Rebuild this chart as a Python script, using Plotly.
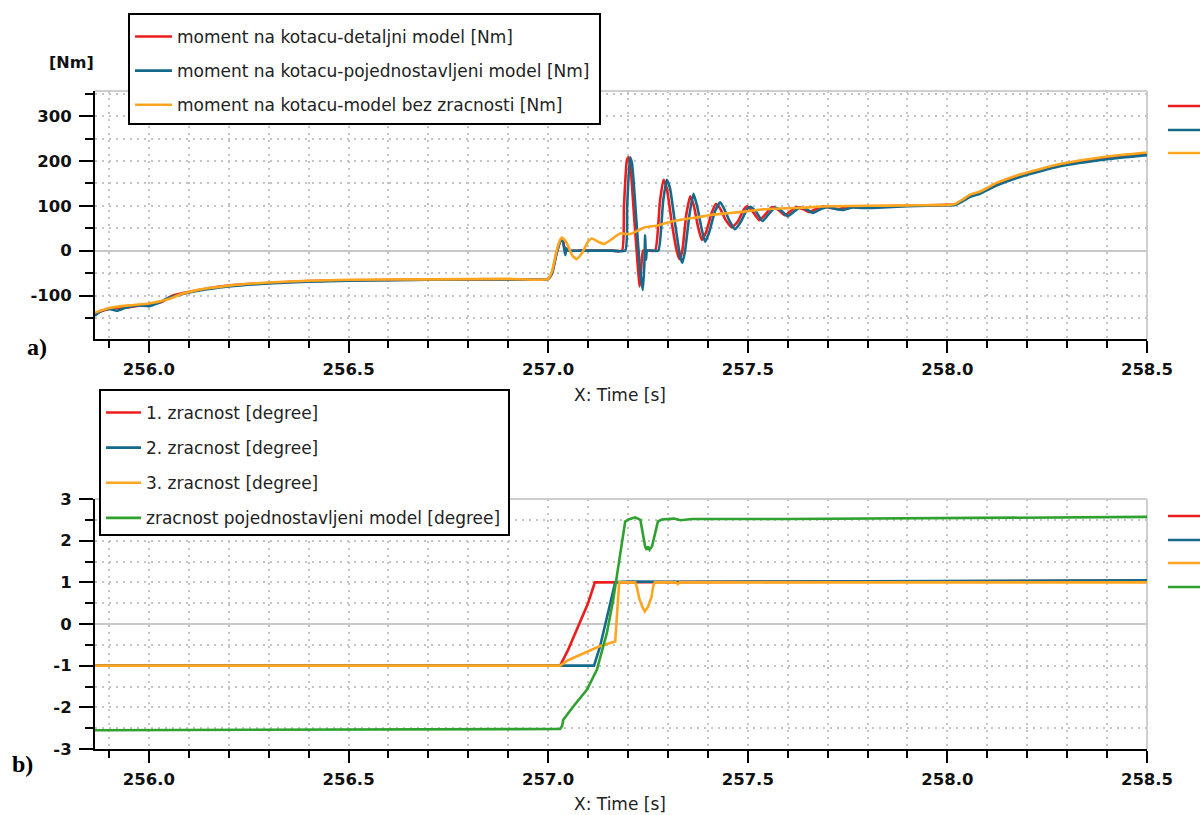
import plotly.graph_objects as go

# ---------------- data: panel a) torque [Nm] ----------------
t_red = [255.865, 255.9, 255.95, 256.0, 256.03, 256.06, 256.1, 256.15, 256.2, 256.3, 256.4, 256.5, 256.7, 256.9, 257.0,
         257.01, 257.02, 257.03, 257.036, 257.04, 257.045, 257.05, 257.08, 257.12, 257.16, 257.185, 257.19, 257.197, 257.201, 257.206, 257.215,
         257.225, 257.229, 257.233, 257.238, 257.253, 257.268, 257.28, 257.289, 257.297, 257.31, 257.322, 257.329, 257.336,
         257.346, 257.356, 257.365, 257.375, 257.385, 257.395, 257.41, 257.42, 257.43, 257.445, 257.46, 257.475, 257.49,
         257.498, 257.51, 257.529, 257.545, 257.56, 257.575, 257.593, 257.61, 257.622, 257.64, 257.655, 257.675, 257.69,
         257.71, 257.73, 257.75, 257.8, 257.85, 257.9, 257.95, 258.0, 258.019, 258.04, 258.057, 258.082, 258.123,
         258.182, 258.282, 258.4, 258.5]
v_red = [-140, -130, -126, -119, -115, -100, -92, -84, -78, -72, -68, -66, -65, -64, -63,
         -50, -10, 20, 27, 10, 2, 0, 0, 0, 0, 0, 100, 200, 208, 190, 80,
         -40, -80, -40, 0, 0, 0, 110, 158, 140, 60, 0, -19, 0,
         80, 121, 100, 55, 24, 40, 85, 104, 95, 68, 52, 65, 92,
         99, 90, 68, 82, 97, 92, 79, 90, 97, 92, 86, 95, 99,
         95, 93, 98, 97, 99, 100, 101, 102, 103, 114, 123, 130, 149,
         168, 191, 207, 216]

t_blue = [255.865, 255.88, 255.9, 255.92, 255.94, 255.97, 256.0, 256.02, 256.05, 256.08, 256.12, 256.2, 256.3, 256.4,
          256.5, 256.7, 256.9, 257.0, 257.01, 257.02, 257.03, 257.036, 257.04, 257.043, 257.046, 257.05, 257.08, 257.12, 257.16, 257.193,
          257.198, 257.205, 257.21, 257.22, 257.23, 257.237, 257.241, 257.243, 257.245, 257.248, 257.262, 257.276, 257.288,
          257.297, 257.305, 257.318, 257.33, 257.336, 257.343, 257.354, 257.364, 257.373, 257.383, 257.393, 257.403,
          257.418, 257.431, 257.44, 257.455, 257.468, 257.483, 257.498, 257.506, 257.52, 257.537, 257.553, 257.568,
          257.583, 257.6, 257.617, 257.63, 257.65, 257.663, 257.683, 257.7, 257.72, 257.74, 257.76, 257.8, 257.85,
          257.9, 257.95, 258.0, 258.019, 258.04, 258.057, 258.082, 258.123, 258.182, 258.282, 258.4, 258.5]
v_blue = [-145, -135, -130, -134, -128, -122, -124, -118, -105, -98, -90, -80, -73, -69,
          -67, -65, -64, -63, -50, -10, 20, 25, 5, -10, 5, 0, 0, 0, 0, 0,
          100, 208, 195, 80, -40, -88, -30, 35, -20, 0, 0, 0, 110,
          158, 140, 60, -10, -27, 0, 80, 127, 100, 55, 20, 40,
          88, 108, 95, 65, 48, 65, 92, 98, 88, 66, 82, 96,
          90, 77, 88, 96, 91, 84, 93, 97, 93, 91, 96, 95, 97,
          99, 100, 101, 102, 111, 120, 127, 145, 164, 188, 204, 213]

t_orange = [255.865, 255.9, 255.95, 256.0, 256.05, 256.08, 256.12, 256.2, 256.3, 256.4, 256.5, 256.7, 256.9, 257.0,
            257.01, 257.02, 257.028, 257.034, 257.045, 257.06, 257.071, 257.085, 257.1, 257.109, 257.125, 257.14,
            257.16, 257.18, 257.205, 257.225, 257.243, 257.275, 257.305, 257.34, 257.372, 257.41, 257.456, 257.5,
            257.538, 257.58, 257.622, 257.66, 257.706, 257.8, 257.9, 258.0, 258.019, 258.04, 258.057, 258.082,
            258.123, 258.182, 258.282, 258.4, 258.5]
v_orange = [-138, -128, -122, -118, -108, -97, -88, -78, -71, -67, -65, -64, -63, -63,
            -45, -5, 20, 29, 20, -10, -19, -5, 20, 27, 20, 15,
            26, 38, 37, 45, 52, 56, 64, 70, 74, 80, 84, 88,
            92, 94, 95, 97, 99, 100, 101, 102, 104, 115, 125, 132,
            151, 170, 193, 210, 219]

# ---------------- data: panel b) backlash [degree] ----------------
t_z1 = [255.865, 257.03, 257.05, 257.076, 257.1, 257.117, 257.5, 258.0, 258.5]
v_z1 = [-1.0, -1.0, -0.62, -0.06, 0.5, 1.0, 1.01, 1.02, 1.04]

t_z2 = [255.865, 257.115, 257.13, 257.147, 257.16, 257.168, 257.2, 257.3, 257.6, 258.0, 258.5]
v_z2 = [-1.0, -1.0, -0.54, 0.18, 0.74, 1.0, 1.02, 1.01, 1.02, 1.03, 1.05]

t_z3 = [255.865, 257.03, 257.05, 257.097, 257.13, 257.168, 257.172, 257.178, 257.218, 257.222, 257.228, 257.235,
        257.242, 257.25, 257.259, 257.263, 257.267, 257.32, 257.325, 257.33, 258.0, 258.5]
v_z3 = [-1.0, -1.0, -0.87, -0.66, -0.53, -0.42, 0.2, 1.0, 1.0, 0.9, 0.62, 0.43,
        0.3, 0.41, 0.65, 0.9, 1.0, 1.0, 0.96, 1.0, 1.0, 1.0]

t_zp = [255.865, 256.5, 257.03, 257.035, 257.038, 257.063, 257.097, 257.122, 257.147, 257.163, 257.18, 257.193,
        257.201, 257.218, 257.231, 257.24, 257.243, 257.247, 257.25, 257.254, 257.26, 257.267, 257.275, 257.285,
        257.315, 257.332, 257.36, 257.6, 258.0, 258.5]
v_zp = [-2.55, -2.53, -2.52, -2.45, -2.3, -1.98, -1.58, -1.10, -0.22, 0.58, 1.62, 2.46,
        2.51, 2.56, 2.5, 2.0, 1.86, 1.78, 1.86, 1.78, 1.86, 2.14, 2.46, 2.51,
        2.53, 2.49, 2.52, 2.52, 2.54, 2.57]

names_a = ["moment na kotacu-detaljni model [Nm]",
           "moment na kotacu-pojednostavljeni model [Nm]",
           "moment na kotacu-model bez zracnosti [Nm]"]
names_b = ["1. zracnost [degree]", "2. zracnost [degree]", "3. zracnost [degree]",
           "zracnost pojednostavljeni model [degree]"]

x_range = [255.865, 258.5]
x_ticks = [256.0, 256.5, 257.0, 257.5, 258.0, 258.5]
x_ticktext = ["256.0", "256.5", "257.0", "257.5", "258.0", "258.5"]
ya_range = [-197, 356]
ya_ticks = [-100, 0, 100, 200, 300]
ya_ticktext = ["-100", "0", "100", "200", "300"]
yb_range = [-3, 3]
yb_ticks = [-3, -2, -1, 0, 1, 2, 3]
yb_ticktext = ["-3", "-2", "-1", "0", "1", "2", "3"]

RED = "#ee1d1d"
BLUE = "#156a8c"
ORANGE = "#ffa51f"
GREEN = "#2ea12e"

W, H = 1200, 815
def px(x):
    return x / W
def py(y):
    return 1 - y / H

fig = go.Figure()
series_a = [(t_red, v_red, RED), (t_blue, v_blue, BLUE), (t_orange, v_orange, ORANGE)]
for i, (t, v, c) in enumerate(series_a):
    fig.add_trace(go.Scatter(x=t, y=v, mode="lines", name=names_a[i],
                             line=dict(color=c, width=2.6, shape="spline", smoothing=0.5),
                             xaxis="x", yaxis="y", legend="legend", legendgroup="a%d" % i))
series_b = [(t_z1, v_z1, RED), (t_z2, v_z2, BLUE), (t_z3, v_z3, ORANGE), (t_zp, v_zp, GREEN)]
for i, (t, v, c) in enumerate(series_b):
    fig.add_trace(go.Scatter(x=t, y=v, mode="lines", name=names_b[i],
                             line=dict(color=c, width=2.6),
                             xaxis="x2", yaxis="y2", legend="legend2", legendgroup="b%d" % i))

GRID = "#c4c4c4"
tickfont = dict(family="DejaVu Sans", size=16.5, color="#111111", weight="bold")

def xaxis_cfg(anchor):
    return dict(domain=[px(95), px(1147)], range=x_range, anchor=anchor, automargin=False,
                tickmode="array", tickvals=x_ticks, ticktext=x_ticktext,
                ticks="outside", ticklen=12, tickwidth=2,
                tickcolor="black", showline=True, linecolor="black", linewidth=2,
                showgrid=True, gridcolor=GRID, griddash="2px,5px", gridwidth=1.5, zeroline=False,
                tickfont=tickfont, ticklabelstandoff=2,
                minor=dict(dtick=0.1, tick0=256.0, ticks="outside", ticklen=7, tickwidth=2, tickcolor="black",
                           showgrid=True, gridcolor=GRID, griddash="2px,5px", gridwidth=1.5))

def yaxis_cfg(anchor, dom, rng, tv, tt, mdtick):
    return dict(domain=dom, range=rng, anchor=anchor, automargin=False,
                tickmode="array", tickvals=tv, ticktext=tt,
                ticks="outside", ticklen=14, tickwidth=2, tickcolor="black",
                showline=True, linecolor="black", linewidth=2,
                showgrid=True, gridcolor=GRID, griddash="2px,5px", gridwidth=1.5,
                zeroline=True, zerolinecolor="#c8c8c8", zerolinewidth=2,
                tickfont=tickfont, ticklabelstandoff=4,
                minor=dict(dtick=mdtick, tick0=0, ticks="outside", ticklen=8, tickwidth=2, tickcolor="black",
                           showgrid=True, gridcolor=GRID, griddash="2px,5px", gridwidth=1.5))

legend_font = dict(family="DejaVu Sans", size=17, color="#222222")
fig.update_layout(
    width=W, height=H, margin=dict(l=0, r=0, t=0, b=0, autoexpand=False),
    paper_bgcolor="white", plot_bgcolor="white",
    font=dict(family="DejaVu Sans", size=17, color="#222222"),
    xaxis=xaxis_cfg("y"),
    yaxis=yaxis_cfg("x", [py(339), py(91)], ya_range, ya_ticks, ya_ticktext, 50),
    xaxis2=xaxis_cfg("y2"),
    yaxis2=yaxis_cfg("x2", [py(749), py(499)], yb_range, yb_ticks, yb_ticktext, 0.5),
    legend=dict(x=px(130), y=py(19), xanchor="left", yanchor="top", bgcolor="rgba(0,0,0,0)",
                borderwidth=0, font=legend_font, tracegroupgap=9, itemwidth=37),
    legend2=dict(x=px(101), y=py(395), xanchor="left", yanchor="top", bgcolor="rgba(0,0,0,0)",
                 borderwidth=0, font=legend_font, tracegroupgap=10, itemwidth=35),
    showlegend=True,
)

shapes = []
# light gray top/right frame of each plot area
for xr, yr in (("x domain", "y domain"), ("x2 domain", "y2 domain")):
    shapes.append(dict(type="line", xref=xr, yref=yr, x0=0, x1=1, y0=1, y1=1, line=dict(color="#cfcfcf", width=2), layer="below"))
    shapes.append(dict(type="line", xref=xr, yref=yr, x0=1, x1=1, y0=0, y1=1, line=dict(color="#cfcfcf", width=2), layer="below"))
# legend frames
for (x0, y0, x1, y1) in ((129, 14, 600, 124), (100, 390, 509, 535)):
    shapes.append(dict(type="rect", xref="paper", yref="paper", x0=px(x0), x1=px(x1), y0=py(y1), y1=py(y0),
                       fillcolor="white", line=dict(color="black", width=2), layer="above"))
# truncated legend swatches at right edge
for yy, c in ((106, RED), (130, BLUE), (153, ORANGE), (516, RED), (540, BLUE), (563, ORANGE), (587, GREEN)):
    shapes.append(dict(type="line", xref="paper", yref="paper", x0=px(1168), x1=px(1200), y0=py(yy), y1=py(yy),
                       line=dict(color=c, width=2.5)))
fig.update_layout(shapes=shapes)

ann = [
    dict(text="[Nm]", x=px(71), y=py(62), font=dict(family="DejaVu Sans", size=16, color="#111111", weight="bold")),
    dict(text="X: Time [s]", x=px(620), y=py(395), font=dict(family="DejaVu Sans", size=17, color="#222222")),
    dict(text="X: Time [s]", x=px(620), y=py(804), font=dict(family="DejaVu Sans", size=17, color="#222222")),
    dict(text="a)", x=px(37), y=py(347), font=dict(family="Liberation Serif", size=24, color="black", weight="bold")),
    dict(text="b)", x=px(22), y=py(764), font=dict(family="Liberation Serif", size=24, color="black", weight="bold")),
]
for a in ann:
    a.update(xref="paper", yref="paper", showarrow=False, xanchor="center", yanchor="middle")
fig.update_layout(annotations=ann)

fig.write_html("out.html", config={"displayModeBar": False},
               post_script="document.body.style.margin='0';document.body.style.padding='0';document.body.style.overflow='hidden';")
